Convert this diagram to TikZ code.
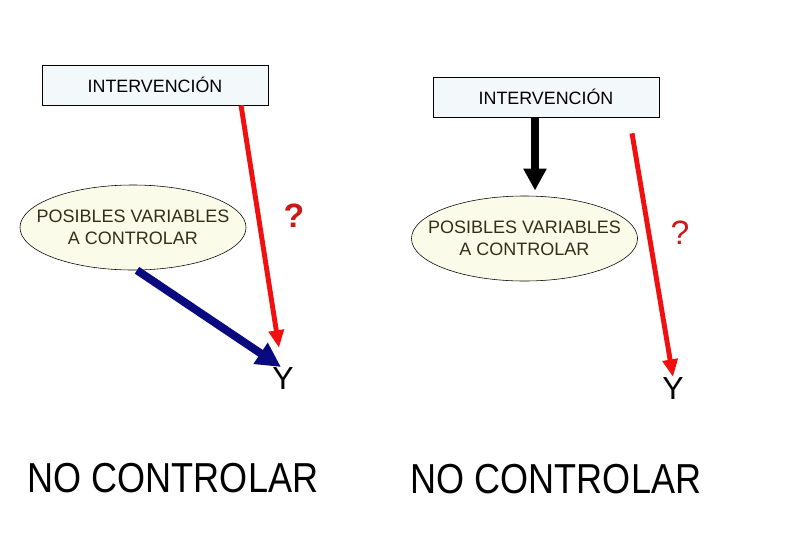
\documentclass[tikz,border=0pt]{standalone}
\usepackage{fontspec}
\setmainfont{Liberation Sans}
\newfontfamily\narrowfont[FakeStretch=0.86]{Liberation Sans}
\usepackage{tikz}
\usetikzlibrary{positioning,arrows.meta,shapes.geometric}
\definecolor{boxfill}{HTML}{F3F9FA}
\definecolor{elfill}{HTML}{FBFBEA}
\definecolor{eltext}{HTML}{30301A}
\definecolor{flecharoja}{HTML}{F01010}
\definecolor{interroga}{HTML}{D01818}
\definecolor{azul}{HTML}{0A0A80}

\begin{document}
\begin{tikzpicture}[x=0.025cm, y=-0.025cm,
  caja/.style={draw, fill=boxfill, minimum width=56.5mm, minimum height=10mm, inner sep=0pt, font=\fontsize{12.7}{14}\selectfont},
  elip/.style={draw, ellipse, fill=elfill, minimum width=56.5mm, minimum height=21.25mm, inner xsep=-12pt, inner ysep=0pt, align=center, text=eltext, font=\fontsize{12.8}{15.6}\selectfont},
  yy/.style={anchor=north, inner sep=0pt, font=\fontsize{22.7}{24}\selectfont},
  preg/.style={text=interroga, inner sep=0pt, font=\fontsize{24}{26}\selectfont},
  lema/.style={inner sep=0pt, font=\fontsize{29.8}{32}\narrowfont},
  roja/.style={draw=flecharoja, line width=3.5pt, -{Triangle[length=12.5pt, width=10.5pt]}},
  azula/.style={draw=azul, line width=5.7pt, -{Triangle[length=17.5pt, width=17pt]}},
  negra/.style={draw=black, line width=5.7pt, -{Triangle[length=15.6pt, width=15.6pt]}}]
  \useasboundingbox (0,0) rectangle (810,540);

  % izquierda
  \node[caja] (iz1) at (155,85) {INTERVENCIÓN};
  \node[elip] (vc1) at (133,227.5) {POSIBLES VARIABLES\\A CONTROLAR};
  \node[yy] (y1) at (283,367) {Y};
  \node[preg, font=\fontsize{24}{26}\selectfont\bfseries] (q1) at (294,216) {?};
  \node[lema] (nc1) at (173,478) {NO CONTROLAR};

  % derecha
  \node[caja] (iz2) at (546,97) {INTERVENCIÓN};
  \node[elip] (vc2) at (524.5,238.5) {POSIBLES VARIABLES\\A CONTROLAR};
  \node[yy] (y2) at (673,377) {Y};
  \node[preg] (q2) at (680,233) {?};
  \node[lema] (nc2) at (556,479) {NO CONTROLAR};

  \draw[roja] ([xshift=21.5mm]iz1.south) -- ([xshift=-1mm, yshift=4.8mm]y1.north);
  \draw[azula] ([xshift=1mm]vc1.south) -- ([xshift=-0.5mm]y1.north);
  \draw[negra] ([xshift=-2.75mm]iz2.south) -- ([xshift=-2.75mm, yshift=1.3mm]iz2.south |- vc2.north);
  \draw[roja] ([xshift=21.5mm, yshift=-4mm]iz2.south) -- (y2.north);
\end{tikzpicture}
\end{document}
